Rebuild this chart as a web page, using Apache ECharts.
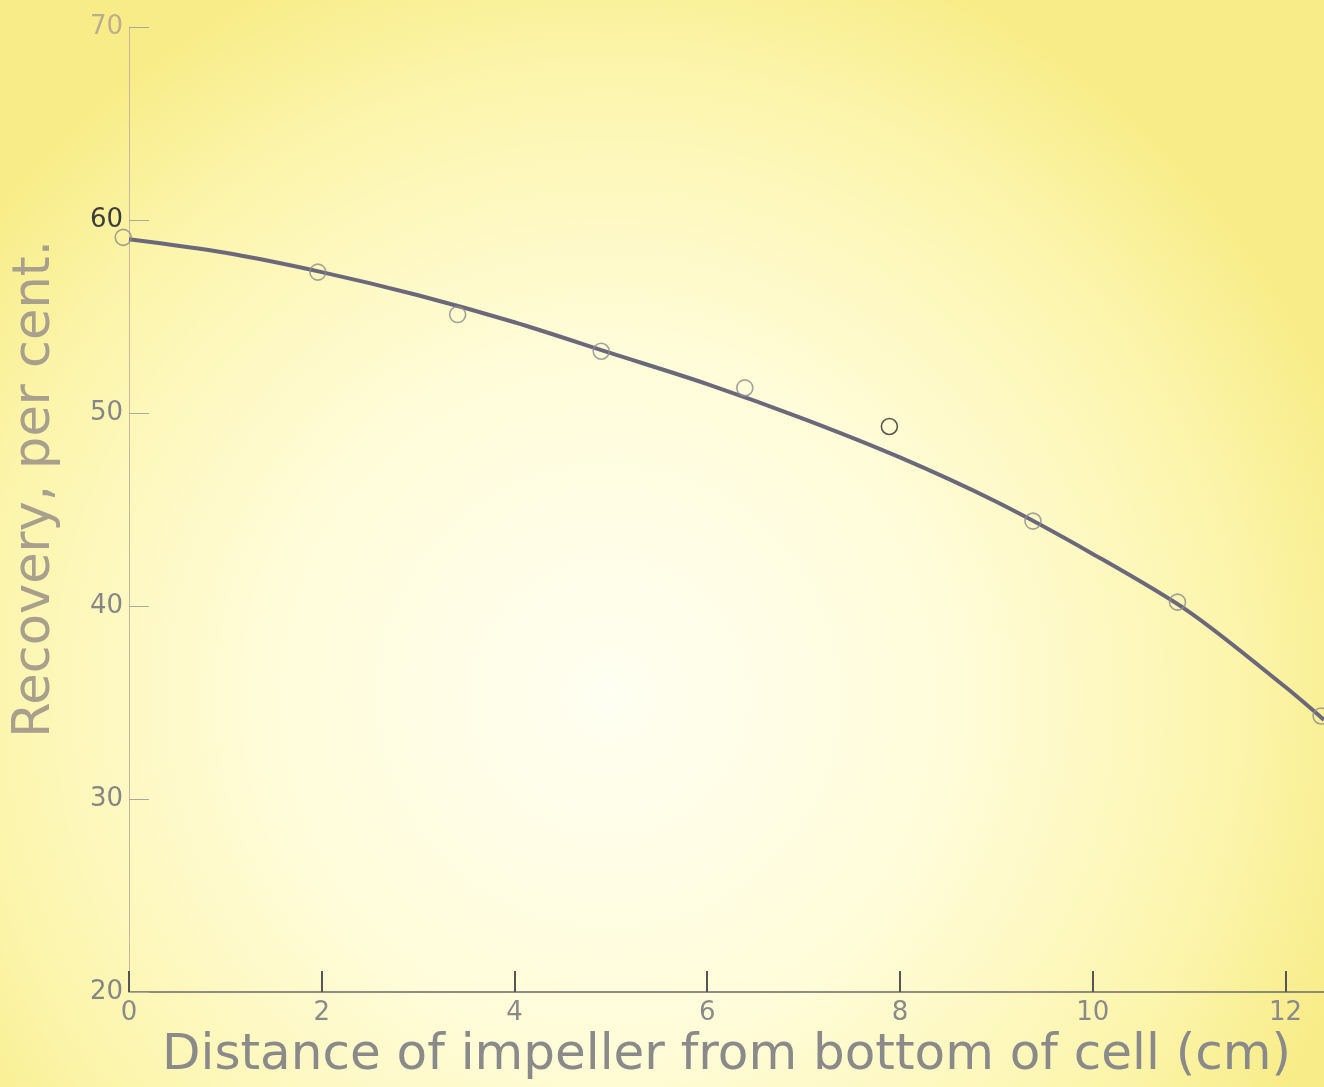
<!DOCTYPE html>
<html>
<head>
<meta charset="utf-8">
<title>Recovery vs impeller distance</title>
<script src="https://cdn.jsdelivr.net/npm/echarts@6/dist/echarts.min.js"></script>
<style>
  html,body{margin:0;padding:0;background:#fffbd8;}
  #chart{width:1324px;height:1087px;}
</style>
</head>
<body>
<div id="chart"></div>
<script>
// measured points (circles)
var pointX = [-0.06, 1.96, 3.41, 4.90, 6.39, 7.89, 9.38, 10.88, 12.37]
var pointY = [59.1, 57.3, 55.1, 53.2, 51.3, 49.3, 44.4, 40.2, 34.3]
// fitted curve
var curveX = [0, 1, 2, 3, 4, 5, 6, 7, 8, 9, 10, 11, 12, 12.4]
var curveY = [59.0, 58.3, 57.3, 56.1, 54.7, 53.1, 51.5, 49.7, 47.7, 45.4, 42.7, 39.7, 35.8, 34.1]
var xTicks = [0, 2, 4, 6, 8, 10, 12]
var yTicks = [20, 30, 40, 50, 60, 70]

var chart = echarts.init(document.getElementById('chart'))

var points = pointX.map(function(x, i){
  var item = {value:[x, pointY[i]]}
  if (i == 5) item.itemStyle = {borderColor:'#2e2e2e'}
  return item
})
var curve = curveX.map(function(x, i){ return [x, curveY[i]] })

var font = 'DejaVu Sans'

chart.setOption({
  animation:false,
  graphic:[
    {
      type:'rect', z:-100, silent:true,
      shape:{x:0, y:0, width:1324, height:1087},
      style:{
        fill:new echarts.graphic.RadialGradient(0.46, 0.64, 0.72, [
          {offset:0, color:'#fffff2'},
          {offset:0.45, color:'#fffcd8'},
          {offset:0.8, color:'#fcf5ac'},
          {offset:1, color:'#f8ec88'}
        ])
      }
    },
    {
      type:'text', left:10, top:240, rotation:Math.PI/2,
      style:{text:'Recovery, per cent.', fontFamily:font, fontSize:51, fill:'#a89f8c'}
    }
  ],
  grid:{left:129, right:0, top:27, bottom:95, containLabel:false},
  xAxis:{
    type:'value', min:0, max:12.4, interval:2,
    name:'Distance of impeller from bottom of cell (cm)',
    nameLocation:'middle', nameGap:38,
    nameTextStyle:{fontFamily:font, fontSize:50, color:'#8a8a8a'},
    axisLine:{lineStyle:{color:'#6a6a6a', width:1.5}},
    axisTick:{inside:true, length:21, lineStyle:{color:'#555', width:2}},
    axisLabel:{
      showMaxLabel:false, margin:8, fontFamily:font, fontSize:26, color:'#8a8a8a',
      formatter:function(v){ return xTicks.indexOf(v) >= 0 ? v : '' }
    },
    splitLine:{show:false}
  },
  yAxis:{
    type:'value', min:20, max:70, interval:10,
    axisLine:{show:true, lineStyle:{color:'#c9b6a4', width:1}},
    axisTick:{inside:true, length:20, lineStyle:{color:'#a9a9a0', width:1}},
    axisLabel:{
      margin:6, fontFamily:font, fontSize:26,
      color:function(v){ return v == 60 ? '#3c3c3c' : (v == 70 ? '#bcae8c' : '#868686') },
      formatter:function(v){ return yTicks.indexOf(v) >= 0 ? v : '' }
    },
    splitLine:{show:false}
  },
  series:[
    {
      type:'line', data:curve, smooth:0.3, symbol:'none', clip:false, z:2,
      lineStyle:{color:'#6c687c', width:4}
    },
    {
      type:'scatter', data:points, symbol:'circle', symbolSize:16, clip:false, z:3,
      itemStyle:{color:'rgba(0,0,0,0)', borderColor:'#8c8c8c', borderWidth:1.6}
    }
  ]
})
</script>
</body>
</html>
